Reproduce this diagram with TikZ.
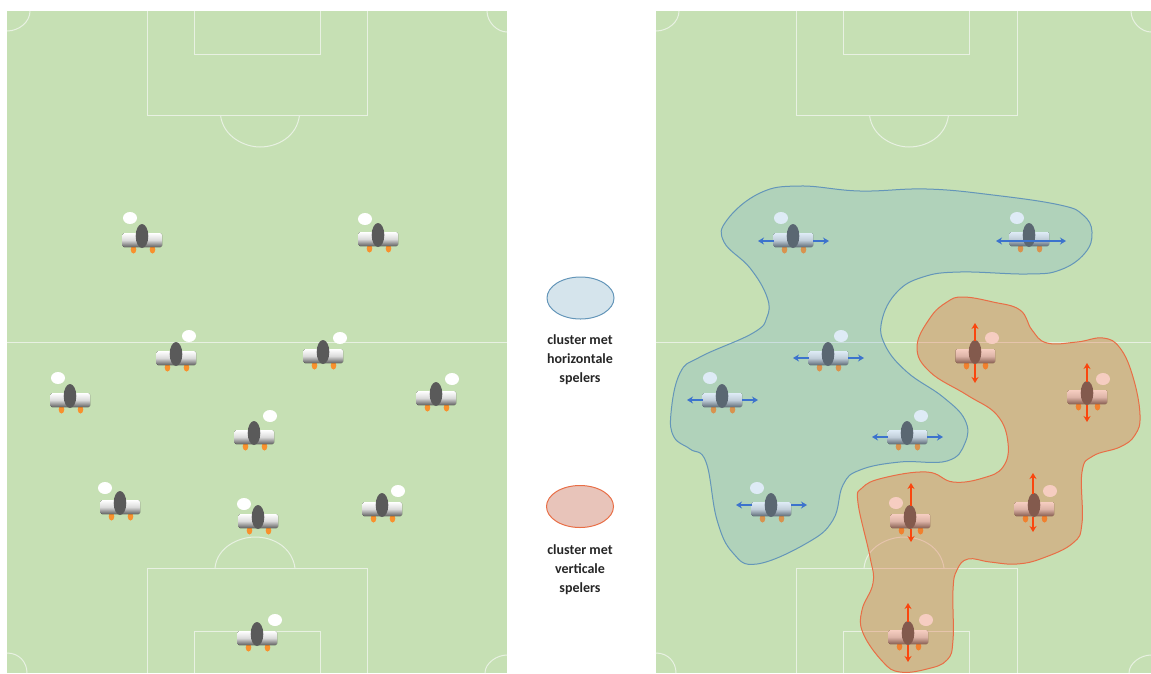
\documentclass[tikz,border=0pt]{standalone}
\usepackage{fontspec}
\setmainfont{Carlito}
\usetikzlibrary{arrows.meta,shapes.geometric}
\definecolor{field}{RGB}{198,224,180}
\definecolor{fieldline}{RGB}{232,241,226}
\definecolor{bluec}{RGB}{91,155,213}
\definecolor{redc}{RGB}{228,92,50}
\definecolor{bluelegend}{RGB}{213,228,236}
\definecolor{redlegend}{RGB}{232,196,186}
\definecolor{blueedge}{RGB}{100,150,185}
\definecolor{rededge}{RGB}{232,110,70}
\definecolor{bodygrey}{RGB}{90,90,90}
\definecolor{footor}{RGB}{248,145,45}
\definecolor{hblue}{RGB}{60,115,205}
\definecolor{vred}{RGB}{250,70,15}
\tikzset{
  x=1pt,y=-1pt,
  pitch/.style={fill=field,draw=none},
  marking/.style={draw=fieldline,line width=1pt},
  ballnode/.style={ellipse,fill=white,draw=none,minimum width=14pt,minimum height=12pt,inner sep=0pt},
  bluecluster/.style={fill=bluec,fill opacity=.2,draw=none},
  redcluster/.style={fill=redc,fill opacity=.3,draw=none},
  blueoutline/.style={draw=blueedge,line width=1pt},
  redoutline/.style={draw=rededge,line width=1pt},
  hmove/.style={draw=hblue,line width=1.3pt,-{Stealth[length=6pt,width=7pt]}},
  vmove/.style={draw=vred,line width=1.3pt,-{Stealth[length=6pt,width=7pt]}},
  legendblue/.style={ellipse,fill=bluelegend,draw=blueedge,line width=1pt,minimum width=67pt,minimum height=42pt,inner sep=0pt},
  legendred/.style={ellipse,fill=redlegend,draw=rededge,line width=1pt,minimum width=67pt,minimum height=42pt,inner sep=0pt},
  legendtext/.style={align=center,font=\bfseries\fontsize{14}{19}\selectfont,text=black!85},
}
\newcommand{\playerfig}[5]{% x y ballx bally name
  \fill[footor] (#1-8.5,#2+13.5) ellipse [x radius=2.8,y radius=4];
  \fill[footor] (#1+10.5,#2+13.5) ellipse [x radius=2.8,y radius=4];
  \fill[rounded corners=1.5pt,top color=white,bottom color=black!62,middle color=black!14] (#1-19.5,#2-3) rectangle (#1+20,#2+11);
  \fill[bodygrey] (#1,#2) ellipse [x radius=6.3,y radius=12];
  \node[ballnode] (#5) at (#3,#4) {};
}
\newcommand{\pitchat}[3]{% left, right, box right offset
  \fill[pitch] (#1,11) rectangle (#2,673);
  \begin{scope}[shift={(#1,0)}]
  \draw[marking] (140,11) -- (140,115) -- (#3,115) -- (#3,11);
  \draw[marking] (187,11) -- (187,54) -- (313,54) -- (313,11);
  \draw[marking] (213.5,115) .. controls (216,137) and (238,147) .. (253,147) .. controls (270,147) and (290,137) .. (292.5,115);
  \draw[marking] (140,673) -- (140,568) -- (#3,568) -- (#3,673);
  \draw[marking] (187,673) -- (187,631) -- (313,631) -- (313,673);
  \draw[marking] (208,568) .. controls (210,547) and (232,537) .. (248,537) .. controls (266,537) and (285,547) .. (288,568);
  \draw[marking] (0,31) .. controls (12,31) and (23,22) .. (23,11);
  \draw[marking] (0,653) .. controls (12,653) and (20,662) .. (20,673);
  \draw[marking] (0,342) -- (#2-#1,342);
  \draw[marking] (#2-#1-20,11) .. controls (#2-#1-20,22) and (#2-#1-10,32) .. (#2-#1,32);
  \draw[marking] (#2-#1,655) .. controls (#2-#1-10,655) and (#2-#1-22,663) .. (#2-#1-22,673);
  \end{scope}
}
\begin{document}
\begin{tikzpicture}
\useasboundingbox (0,0) rectangle (1151,673);
\pitchat{7}{507}{360}
\pitchat{656}{1151}{361}

% left players
\playerfig{142}{236}{130}{218}{a1}
\playerfig{378}{235}{365}{219}{a2}
\playerfig{176}{354}{189}{336}{a3}
\playerfig{323}{352}{340}{338}{a4}
\playerfig{70}{396}{58}{378}{a5}
\playerfig{436}{394}{452}{379}{a6}
\playerfig{254}{433}{270}{416}{a7}
\playerfig{120}{503}{105}{488}{a8}
\playerfig{258}{517}{244}{504}{a9}
\playerfig{382}{505}{398}{491}{a10}
\playerfig{257}{634}{275}{620}{a11}

% right players
\playerfig{793}{236}{781}{218}{b1}
\playerfig{1029}{235}{1017}{218}{b2}
\playerfig{828}{354}{841}{336}{b3}
\playerfig{722}{396}{710}{378}{b4}
\playerfig{907}{433}{921}{416}{b5}
\playerfig{771}{505}{757}{488}{b6}
\playerfig{975}{352}{992}{338}{c1}
\playerfig{1087}{393}{1103}{379}{c2}
\playerfig{910}{517}{896}{503}{c3}
\playerfig{1034}{505}{1050}{491}{c4}
\playerfig{908}{633}{926}{620}{c5}

% clusters
\def\bluepts{(800,186) (860,191) (927,189) (993,195) (1060,205) (1083,215) (1092,232) (1085,253) (1060,270) (1027,274) (960,272) (923,277) (897,292) (882,320) (885,345) (907,372) (943,397) (965,420) (965,443) (947,461) (900,462) (860,470) (843,485) (833,520) (807,543) (757,564) (733,553) (717,520) (706,462) (690,449) (674,437) (671,413) (680,373) (700,357) (753,333) (767,317) (767,297) (750,268) (724,242) (727,220) (760,193)}
\def\redpts{(963,297) (993,302) (1020,310) (1032,330) (1047,343) (1077,342) (1103,338) (1120,348) (1133,377) (1140,415) (1135,435) (1120,447) (1093,456) (1082,472) (1082,523) (1073,543) (1043,558) (1017,564) (990,562) (968,559) (957,570) (953,590) (953,640) (947,660) (927,669) (900,672) (883,662) (863,633) (862,610) (873,583) (870,557) (858,503) (862,488) (883,478) (927,472) (953,482) (983,478) (1003,467) (1008,443) (997,415) (967,395) (930,372) (917,347) (930,318) (947,302)}
\fill[bluecluster] plot[smooth cycle,tension=.7] coordinates {\bluepts};
\draw[blueoutline] plot[smooth cycle,tension=.7] coordinates {\bluepts};
\fill[redcluster] plot[smooth cycle,tension=.7] coordinates {\redpts};
\draw[redoutline] plot[smooth cycle,tension=.7] coordinates {\redpts};

% arrows: shafts stop at the wings, except the one that crosses player b2
\foreach \xa/\y in {793/241,828/358,722/400,907/437,771/505}{
  \draw[hmove] (\xa-19,\y) -- (\xa-35,\y);
  \draw[hmove] (\xa+20,\y) -- (\xa+36,\y);
}
\draw[hmove,{Stealth[length=6pt,width=7pt]}-{Stealth[length=6pt,width=7pt]}] (996,241) -- (1066,241);
\foreach \x/\y/\t/\b in {975/352/323/383,1087/393/363/422,911/517/483/542,1033/505/473/532,908/633/603/662}{
  \draw[vmove] (\x,\y-11) -- (\x,\t);
  \draw[vmove] (\x,\y+12) -- (\x,\b);
}

% legend
\node[legendblue] (lgb) at (580.5,298) {};
\node[legendred] (lgr) at (580,506.5) {};
\node[legendtext] (lg1) at (580,360) {cluster met\\horizontale\\spelers};
\node[legendtext] (lg2) at (580,570) {cluster met\\verticale\\spelers};
\end{tikzpicture}
\end{document}
